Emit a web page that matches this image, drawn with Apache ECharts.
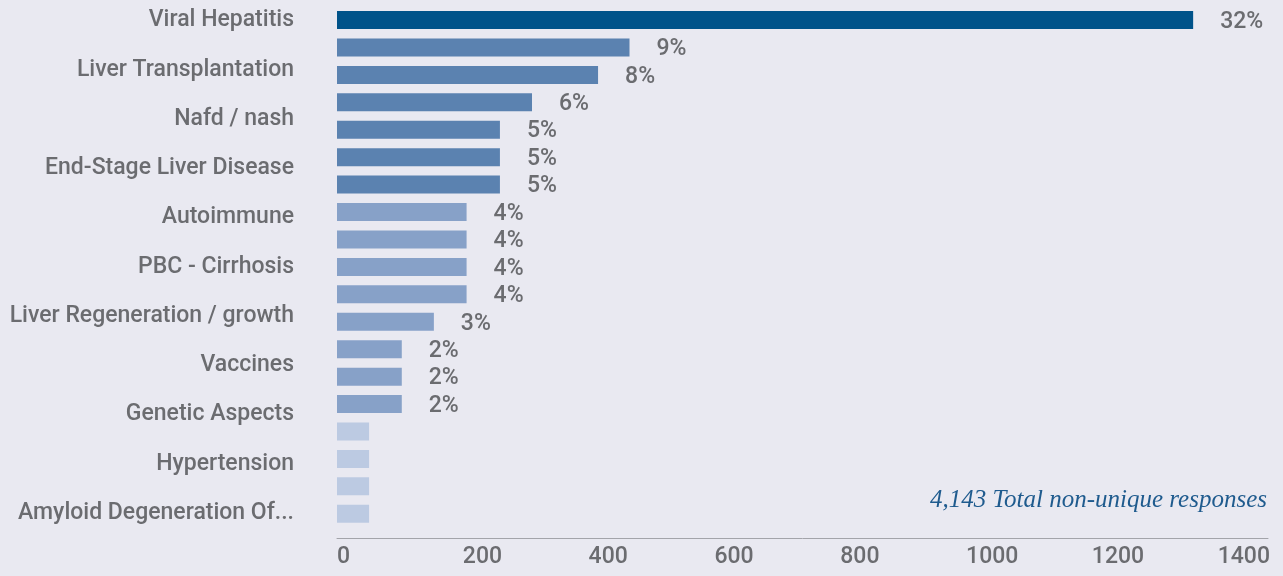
<!DOCTYPE html>
<html>
<head>
<meta charset="utf-8">
<script src="https://cdn.jsdelivr.net/npm/echarts@6/dist/echarts.min.js"></script>
<style>
  html, body { margin: 0; padding: 0; background: #e9e9f1; }
  #chart { width: 1283px; height: 576px; }
</style>
</head>
<body>
<div id="chart"></div>
<script>
// names shown down the left side (they are spread evenly, not one per bar)
const labelNames = [
  "Viral Hepatitis", "Liver Transplantation", "Nafd / nash", "End-Stage Liver Disease",
  "Autoimmune", "PBC - Cirrhosis", "Liver Regeneration / growth", "Vaccines",
  "Genetic Aspects", "Hypertension", "Amyloid Degeneration Of..."
];
// one entry per bar
const barIds = ["b1", "b2", "b3", "b4", "b5", "b6", "b7", "b8", "b9", "b10",
  "b11", "b12", "b13", "b14", "b15", "b16", "b17", "b18", "b19"];
const responses = [1361, 465, 415, 310, 259, 259, 259, 206, 206, 206, 206, 154, 103, 103, 103, 51, 51, 51, 51];
const pctLabels = ["32%", "9%", "8%", "6%", "5%", "5%", "5%", "4%", "4%", "4%", "4%", "3%", "2%", "2%", "2%", "", "", "", ""];
const totalText = "4,143 Total non-unique responses";

const gray = "#6b6c70";

function barColor(v) {
  if (v > 1000) return "#00538a";
  if (v >= 250) return "#5b82b0";
  if (v >= 100) return "#87a1c8";
  return "#bccae2";
}

const chart = echarts.init(document.getElementById("chart"));
chart.setOption({
  backgroundColor: "transparent",
  animation: false,
  title: {
    text: totalText,
    right: 11,
    top: 483,
    textStyle: {
      fontFamily: "Liberation Serif",
      fontStyle: "italic",
      fontWeight: "normal",
      fontSize: 25,
      color: "#1f5b8e"
    }
  },
  grid: [
    { left: 337, right: 15, top: 6.3, bottom: 48.5 },
    { left: 337, right: 15, top: 20.7, bottom: 63 }
  ],
  xAxis: [
    {
      type: "value",
      gridIndex: 0,
      min: 0,
      max: 1480,
      interval: 200,
      offset: 11,
      axisLine: { show: true, lineStyle: { color: "#a3a4aa", width: 1 } },
      axisTick: { show: false },
      splitLine: { show: false },
      axisLabel: {
        align: "left",
        margin: 7,
        showMaxLabel: false,
        color: gray,
        fontFamily: "Roboto",
        fontWeight: 500,
        fontSize: 23,
        formatter: v => String(v)
      }
    },
    { type: "value", gridIndex: 1, show: false }
  ],
  yAxis: [
    {
      type: "category",
      gridIndex: 0,
      inverse: true,
      data: barIds,
      axisLine: { show: false },
      axisTick: { show: false },
      axisLabel: { show: false }
    },
    {
      type: "category",
      gridIndex: 1,
      inverse: true,
      boundaryGap: false,
      data: labelNames,
      axisLine: { show: false },
      axisTick: { show: false },
      axisLabel: {
        interval: 0,
        margin: 43,
        color: gray,
        fontFamily: "Roboto",
        fontWeight: 500,
        fontSize: 23
      }
    }
  ],
  series: [
    {
      type: "bar",
      xAxisIndex: 0,
      yAxisIndex: 0,
      barWidth: 18,
      data: responses,
      itemStyle: { color: p => barColor(p.value) },
      label: {
        show: true,
        position: "right",
        distance: 27,
        offset: [0, 2],
        color: gray,
        fontFamily: "Roboto",
        fontWeight: 500,
        fontSize: 23,
        formatter: p => pctLabels[p.dataIndex]
      }
    }
  ]
});
</script>
</body>
</html>
